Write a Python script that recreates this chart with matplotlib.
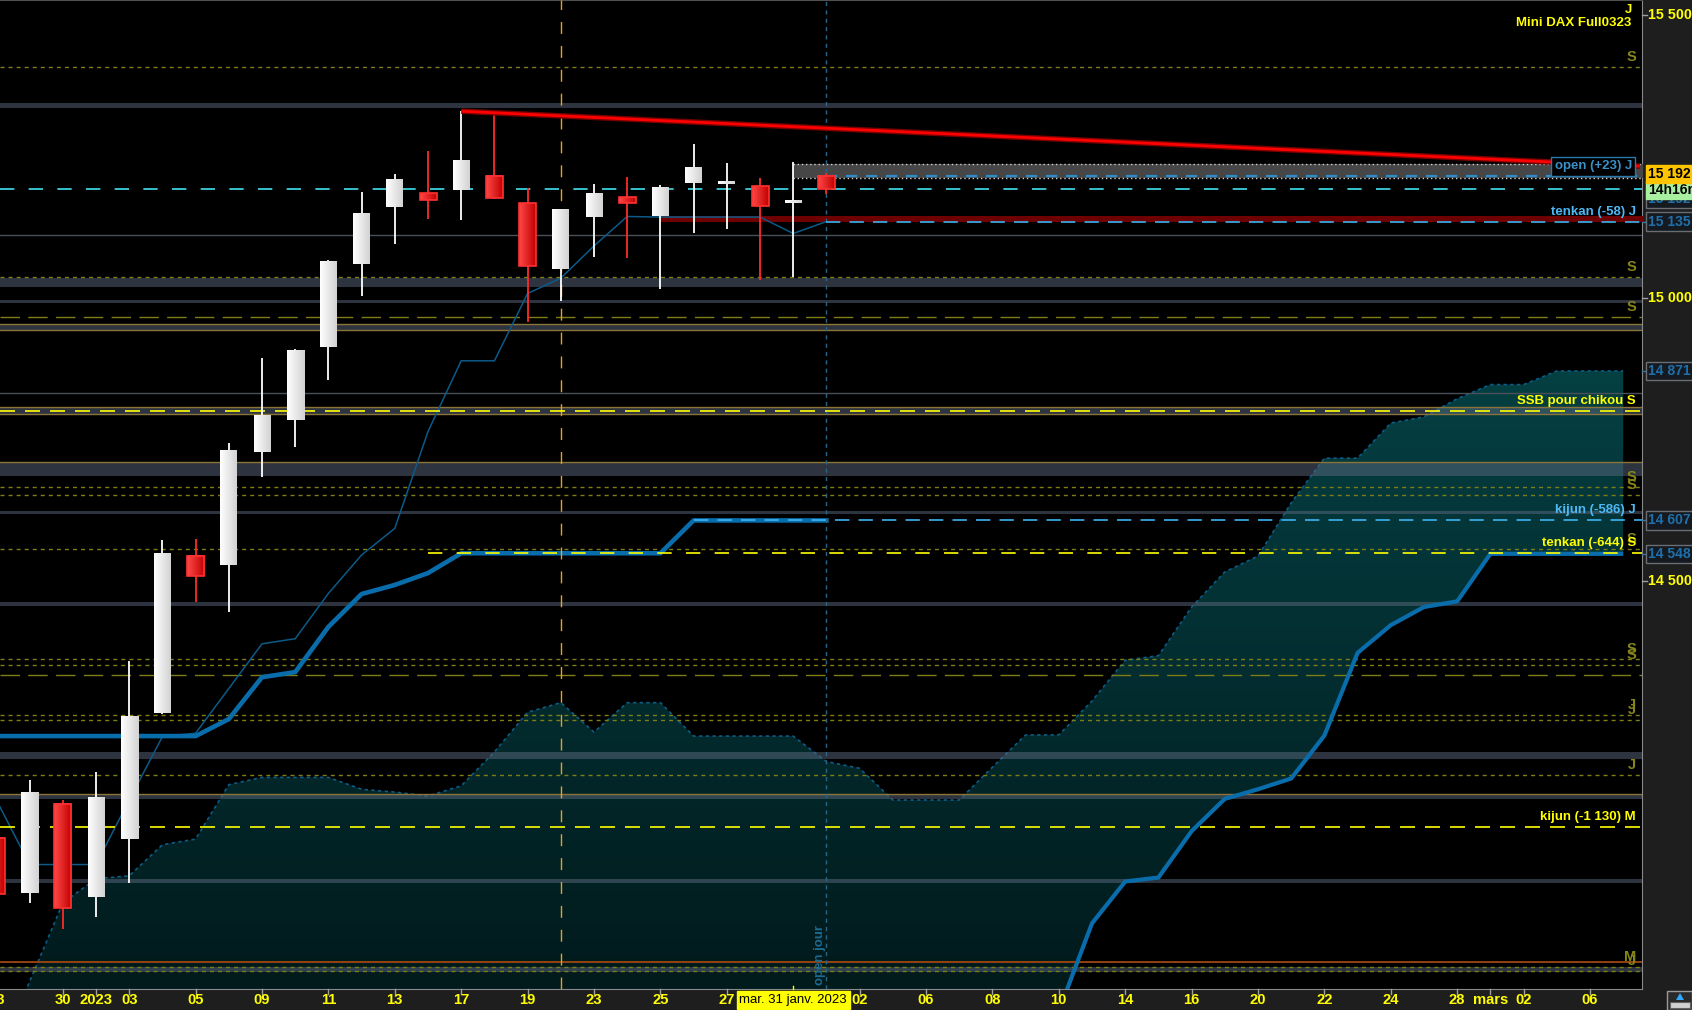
import numpy as np
import matplotlib
matplotlib.use("Agg")
import matplotlib.pyplot as plt
import matplotlib.transforms as mtransforms
from matplotlib.colors import LinearSegmentedColormap
from matplotlib.patches import Rectangle, PathPatch, Polygon
from matplotlib.path import Path
from matplotlib.lines import Line2D

plt.rcParams['font.family'] = ['Liberation Sans', 'DejaVu Sans']

# ---------------- data ----------------
# trading-day index, 0 = 2 Jan 2023 (daily candles, Mini DAX)
candle_idx = list(range(-3, 23))
opens  = [14046, 13948, 14106, 13942, 14045, 14267, 14544, 14528, 14728, 14785, 14913, 15060, 15161,
          15185, 15190, 15216, 15167, 15051, 15143, 15178, 15145, 15203, 15202, 15197, 15168, 15215]
highs  = [14060, 14148, 14113, 14163, 14359, 14572, 14574, 14744, 14894, 14910, 15067, 15187, 15219,
          15260, 15330, 15326, 15194, 15157, 15201, 15214, 15200, 15272, 15239, 15212, 15240, 15220]
lows   = [13930, 13931, 13885, 13907, 13967, 14265, 14462, 14446, 14684, 14737, 14855, 15004, 15095,
          15140, 15138, 15175, 14958, 14994, 15073, 15071, 15016, 15115, 15122, 15032, 15037, 15184]
closes = [13947, 14125, 13922, 14117, 14262, 14548, 14508, 14730, 14793, 14908, 15064, 15150, 15209,
          15174, 15242, 15177, 15057, 15156, 15184, 15168, 15196, 15230, 15205, 15163, 15173, 15192]

tenkan = [14113, 13999, 13999, 13999, 14113, 14225, 14231, 14310, 14389, 14398, 14478, 14546, 14593,
          14764, 14889, 14889, 15008, 15035, 15092, 15144, 15143, 15143, 15143, 15143, 15114, 15135]
kijun  = [14226, 14226, 14226, 14226, 14226, 14226, 14226, 14256, 14330, 14339, 14419, 14477, 14493,
          14514, 14549, 14549, 14549, 14549, 14549, 14549, 14549, 14607, 14607, 14607, 14607, 14607]

cloud_idx = list(range(-3, 47))
span_b = [13654, 13792, 13931, 13974, 13979, 14034, 14044, 14140, 14153, 14153, 14153, 14132, 14127,
          14120, 14138, 14198, 14268, 14285, 14233, 14285, 14285, 14226, 14226, 14226, 14226, 14181,
          14169, 14113, 14113, 14113, 14171, 14228, 14228, 14288, 14360, 14368, 14454, 14516, 14544,
          14638, 14717, 14717, 14779, 14790, 14822, 14847, 14847, 14871, 14871, 14871]
span_a = [np.nan] * 32 + [13740, 13895, 13969, 13976, 14058, 14115, 14132, 14151, 14227, 14373,
                          14422, 14454, 14464, 14548, 14548, 14548, 14548, 14548]

trend_x = [11, 46.5]
trend_y = [15330, 15233]

xtick_idx = [-3, -1, 0, 1, 3, 5, 7, 9, 11, 13, 15, 17, 19, 23, 25, 27, 29, 31, 33, 35, 37, 39, 41, 42, 43, 45]
xtick_lbl = ['28', '30', '2023', '03', '05', '09', '11', '13', '17', '19', '23', '25', '27',
             '02', '06', '08', '10', '14', '16', '20', '22', '24', '28', 'mars', '02', '06']
cursor_idx = 21
cursor_lbl = 'mar. 31 janv. 2023'
vline_yellow_idx = 14
vline_open_idx = 22

ytick_vals = [15500, 15000, 14500]
ytick_lbls = ['15 500', '15 000', '14 500']

grey_bands = [(15336, 15344), (15020, 15036), (14992, 14997), (14944, 14953), (14795, 14807),
              (14686, 14710), (14618, 14624), (14456, 14463), (14186, 14197), (14114, 14124),
              (13967, 13973), (13810, 13818)]
gold_lines = [14953.5, 14943, 14807, 14795, 14710, 14124]
orange_lines = [13826]
thin_grey_lines = [15111, 14832]
olive_short = [15408, 15037, 14666, 14652, 14556, 14362, 14351, 14263, 14254, 14157, 13818, 13811]
olive_short_tags = ['S', 'S', 'S', 'S', 'S', 'S', 'S', 'J', 'J', 'J', 'M', 'J']
olive_long = [14966, 14334]
olive_long_tags = ['S', '']
yellow_levels = [14801, 14549, 14065]
yellow_from = [None, 10, None]
yellow_tags = ['SSB pour chikou S', 'tenkan (-644) S', 'kijun (-1 130) M']
blue_levels = [15135, 14607]
blue_from = [22, 18]
blue_tags = ['tenkan (-58) J', 'kijun (-586) J']
last_price = 15192
open_price = 15215
open_from = 22
open_zone = (15212, 15237)
open_zone_from = 21
red_zone = (15135, 15145)
red_zone_from = 17
right_boxes = [14871, 14607, 14548]

# ---------------- layout ----------------
W, H = 1692, 1010
PLOT_R, PLOT_B = 1642, 989
XMIN, XMAX = -96 / 33.2, (PLOT_R - 96) / 33.2
YMIN, YMAX = 13779.1, 15526.5

fig = plt.figure(figsize=(W / 100, H / 100), dpi=100, facecolor='#1e1e1e')
ax = fig.add_axes([0, (H - PLOT_B) / H, PLOT_R / W, PLOT_B / H], facecolor='#000000')
ax.set_xticks([])
ax.set_yticks([])
ax.spines['left'].set_visible(False)
ax.spines['top'].set_color('#505050')
ax.spines['right'].set_color('#8a8a8a')
ax.spines['bottom'].set_color('#8a8a8a')

# ---------------- cloud ----------------
lower = np.where(np.isnan(np.array(span_a, dtype=float)), 13400, span_a)
poly = ax.fill_between(cloud_idx, lower, span_b, facecolor='none', edgecolor='none', zorder=1)
cpath = Path.make_compound_path(*poly.get_paths())
patch = PathPatch(cpath, transform=ax.transData, facecolor='none', edgecolor='none')
ax.add_patch(patch)
cloud_cmap = LinearSegmentedColormap.from_list('cloud', ['#011a1c', '#054043'])
im = ax.imshow(np.linspace(0, 1, 256).reshape(-1, 1), extent=[-4, 47, YMIN, 14880],
               origin='lower', cmap=cloud_cmap, aspect='auto', zorder=1, interpolation='bilinear')
im.set_clip_path(patch)
ax.plot(cloud_idx, span_b, color='#0b5c86', lw=1.2, ls=(0, (2, 2)), zorder=2)
ax.plot(cloud_idx, span_a, color='#0a6dab', lw=3, zorder=4, solid_capstyle='butt')

# ---------------- horizontal levels ----------------
for lo, hi in grey_bands:
    ax.axhspan(lo, hi, color='#5c687f', alpha=0.5, lw=0, zorder=3)
for y in gold_lines:
    ax.axhline(y, color='#8c7438', lw=1, zorder=3.2)
for y in orange_lines:
    ax.axhline(y, color='#a04810', lw=1.3, zorder=3.2)
for y in thin_grey_lines:
    ax.axhline(y, color='#4a505a', lw=1, zorder=3.2)
for y in olive_short:
    ax.axhline(y, color='#7e7e16', lw=1, ls=(0, (2.9, 2.9)), zorder=3.3)
for y in olive_long:
    ax.axhline(y, color='#7e7e16', lw=1, ls=(0, (14, 6)), zorder=3.3)

ax.fill_between([open_zone_from, XMAX + 1], open_zone[0], open_zone[1], color='#464646', lw=0, zorder=3.4)
for y in open_zone:
    ax.hlines(y, open_zone_from, XMAX + 1, color='#d0d0d0', lw=1, ls=(0, (1, 2)), zorder=3.5)
ax.fill_between([red_zone_from, XMAX + 1], red_zone[0], red_zone[1], color='#6e0000', lw=0, zorder=3.4)

# ---------------- ichimoku lines ----------------
ax.plot(candle_idx, tenkan, color='#0b5a88', lw=1.1, zorder=4)
ax.plot(candle_idx, kijun, color='#0a6dab', lw=3.3, zorder=4, solid_joinstyle='round')

for y, f in zip(yellow_levels, yellow_from):
    if f is None:
        ax.axhline(y, color='#ffff00', lw=1.2, ls=(0, (9, 6)), zorder=5)
    else:
        ax.hlines(y, f, XMAX + 1, color='#ffff00', lw=1.2, ls=(0, (8.6, 8.6)), zorder=5)
for y, f in zip(blue_levels, blue_from):
    ax.hlines(y, f, XMAX + 1, color='#3cb4f0', lw=1.2, ls=(0, (8.6, 5.5)), zorder=5)
ax.axhline(last_price, color='#40e0f0', lw=1.2, ls=(0, (8.6, 8.6)), zorder=5)
ax.hlines(open_price, open_from, XMAX + 1, color='#2f8cc8', lw=1.6, ls=(0, (5, 4)), zorder=5)

ax.axvline(vline_yellow_idx, color='#e8a020', lw=1, ls=(0, (8.6, 8.6)), zorder=4.5)
ax.axvline(vline_open_idx, color='#2a6585', lw=1, ls=(0, (3, 3)), zorder=4.5)

# ---------------- candles ----------------
grad_h = np.linspace(0, 1, 64).reshape(1, -1)
white_cmap = LinearSegmentedColormap.from_list('w', ['#ffffff', '#d2d2d2'])
red_cmap = LinearSegmentedColormap.from_list('r', ['#ff4848', '#c20000'])
half_w = 8.5 / 33.2
for i, o, h, l, c in zip(candle_idx, opens, highs, lows, closes):
    up = c >= o
    ax.vlines(i, l, h, color='#ffffff' if up else '#ff2a2a', lw=1.3, zorder=6)
    lo, hi = min(o, c), max(o, c)
    if hi - lo < 4:
        mid = (hi + lo) / 2
        lo, hi = mid - 2, mid + 2
    ax.imshow(grad_h, extent=[i - half_w, i + half_w, lo, hi], cmap=white_cmap if up else red_cmap,
              aspect='auto', interpolation='bilinear', zorder=7)
    if not up:
        ax.add_patch(Rectangle((i - half_w, lo), 2 * half_w, hi - lo, fill=False, ec='#ff3232',
                               lw=1.2, zorder=8))

ax.plot(trend_x, trend_y, color='#7a0000', lw=4, zorder=8.5, solid_capstyle='butt')
ax.plot(trend_x, trend_y, color='#ff0000', lw=2, zorder=9, solid_capstyle='butt')

ax.set_xlim(XMIN, XMAX)
ax.set_ylim(YMIN, YMAX)

# ---------------- in-plot labels ----------------
trans_l = mtransforms.blended_transform_factory(ax.transAxes, ax.transData)
lab_up = mtransforms.offset_copy(trans_l, fig=fig, x=0, y=10, units='dots')
XR = 1636 / PLOT_R
for y, t in zip(olive_short + olive_long, olive_short_tags + olive_long_tags):
    if t:
        ax.text(XR, y, t, transform=lab_up, ha='right', va='center', color='#85851a',
                fontsize=10.5, fontweight='bold', zorder=10)
for y, t in zip(yellow_levels, yellow_tags):
    ax.text(XR, y, t, transform=lab_up, ha='right', va='center', color='#ffff00',
            fontsize=9.5, fontweight='bold', zorder=10)
for y, t in zip(blue_levels, blue_tags):
    ax.text(XR, y, t, transform=lab_up, ha='right', va='center', color='#4db8f5',
            fontsize=9.5, fontweight='bold', zorder=10)
ax.text(1632 / PLOT_R, open_price, 'open (+23) J', transform=lab_up, ha='right', va='center',
        color='#3a90c8', fontsize=9.5, fontweight='bold', zorder=10,
        bbox=dict(boxstyle='square,pad=0.25', fc='#000000', ec='#2a78b0', lw=1))
ax.text(1628 / PLOT_R, 1 - 10 / PLOT_B, 'J', transform=ax.transAxes, ha='center', va='center',
        color='#ffff00', fontsize=9.5, fontweight='bold')
ax.text(1631 / PLOT_R, 1 - 22.5 / PLOT_B, 'Mini DAX Full0323', transform=ax.transAxes, ha='right',
        va='center', color='#ffff00', fontsize=9.5, fontweight='bold')
ax.text(21.8, 13839, 'open jour', rotation=90, ha='center', va='center', color='#1f6a90',
        fontsize=9.5, fontweight='bold', zorder=10)

# ---------------- right axis ----------------
trans_r = mtransforms.blended_transform_factory(fig.transFigure, ax.transData)
for v, t in zip(ytick_vals, ytick_lbls):
    fig.add_artist(Line2D([PLOT_R / W, (PLOT_R + 5) / W], [v, v], transform=trans_r,
                          color='#a0a0a0', lw=1))
    fig.text((PLOT_R + 6) / W, v, t, transform=trans_r, ha='left', va='center', color='#ffff00',
             fontsize=10.3, fontweight='bold')


def rbox(price, text, fc, ec, tc, dy=0, z=10):
    t = mtransforms.offset_copy(trans_r, fig=fig, x=0, y=dy, units='dots')
    fig.text((PLOT_R + 6) / W, price, text, transform=t, ha='left', va='center', fontsize=10,
             fontweight='bold', color=tc, zorder=z,
             bbox=dict(boxstyle='square,pad=0.15', fc=fc, ec=ec, lw=1))


for v in right_boxes + [blue_levels[0]]:
    fig.add_artist(Line2D([PLOT_R / W, (PLOT_R + 5) / W], [v, v], transform=trans_r,
                          color='#2a78b0', lw=1))
    rbox(v, f"{v // 1000} {v % 1000:03d}", '#151a20', '#6a6e72', '#1f70aa')
rbox(last_price, '15 192', '#151a20', '#6a6e72', '#1f70aa', dy=-10, z=10)
rbox(last_price, '14h16m', '#a8f0a0', '#a8f0a0', '#000000', dy=-1, z=11)
rbox(last_price, '15 192', '#ffc400', '#ffc400', '#000000', dy=15, z=12)

# ---------------- bottom axis ----------------
trans_b = mtransforms.blended_transform_factory(ax.transData, fig.transFigure)
for i, t in zip(xtick_idx, xtick_lbl):
    fig.add_artist(Line2D([i, i], [1 - PLOT_B / H, 1 - (PLOT_B + 5) / H], transform=trans_b,
                          color='#a0a0a0', lw=1))
    fig.text(i, 1 - 999.5 / H, t, transform=trans_b, ha='center', va='center', color='#ffff00',
             fontsize=10.6, fontweight='bold')
fig.add_artist(Line2D([cursor_idx, cursor_idx], [1 - (PLOT_B - 3) / H, 1 - PLOT_B / H],
                      transform=trans_b, color='#ffff00', lw=1))
fig.text(cursor_idx, 1 - 1000 / H, cursor_lbl, transform=trans_b, ha='center', va='center',
         color='#000000', fontsize=9.5, zorder=12,
         bbox=dict(boxstyle='square,pad=0.2', fc='#ffff00', ec='#ffff00'))

# small corner widget (bottom right)
fig.add_artist(Rectangle((1667 / W, 0), 25 / W, 19 / H, transform=fig.transFigure,
                         fc='#2a2a2a', ec='#9a9a9a', lw=1))
fig.add_artist(Polygon([[1676 / W, 10 / H], [1684 / W, 10 / H], [1680 / W, 17 / H]],
                       closed=True, transform=fig.transFigure, fc='#30a8ff', ec='none'))
fig.add_artist(Rectangle((1670 / W, 2 / H), 20 / W, 6 / H, transform=fig.transFigure,
                         fc='#d0d0d0', ec='#606060', lw=0.8))

fig.savefig('out.png', dpi=100, facecolor=fig.get_facecolor())
